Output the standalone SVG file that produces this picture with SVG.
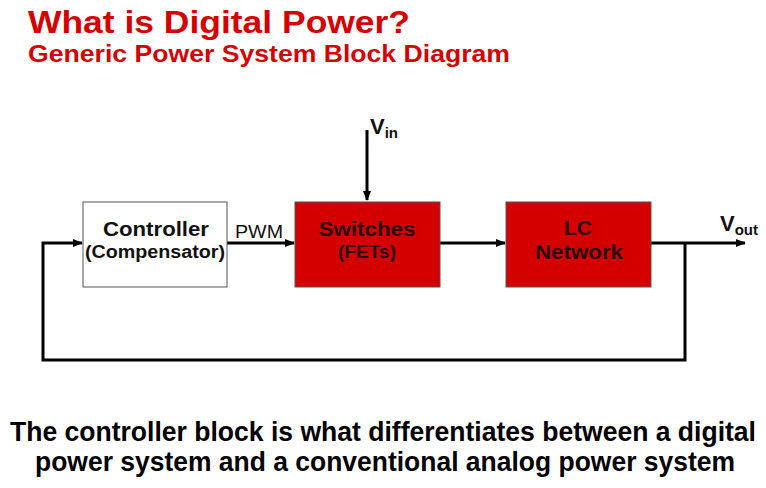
<svg xmlns="http://www.w3.org/2000/svg" width="766" height="488" viewBox="0 0 766 488">
<defs>
<marker id="ah" markerWidth="10" markerHeight="8" refX="9" refY="4" orient="auto" markerUnits="userSpaceOnUse">
<path d="M0,0 L10,4 L0,8 Z" fill="#000"/>
</marker>
<style>
.t{font-family:"Liberation Sans",Arial,sans-serif;font-weight:bold}
.red{fill:#d40000}
.box{stroke:#555;stroke-width:1}
.lbl{font-family:"Liberation Sans",Arial,sans-serif;font-weight:bold;text-anchor:middle;fill:#111}
.dk{fill:#2a0808}
.ln{fill:none;stroke:#000;stroke-width:3}
</style>
</defs>
<rect width="766" height="488" fill="#fff"/>
<text class="t red" x="28" y="33" font-size="32" textLength="382" lengthAdjust="spacingAndGlyphs">What is Digital Power?</text>
<text class="t red" x="28" y="62" font-size="23" textLength="482" lengthAdjust="spacingAndGlyphs">Generic Power System Block Diagram</text>
<g id="connectors">
<line class="ln" x1="367" y1="130" x2="367" y2="200" marker-end="url(#ah)"/>
<line class="ln" x1="227" y1="243" x2="294" y2="243" marker-end="url(#ah)"/>
<line class="ln" x1="440" y1="243" x2="505" y2="243" marker-end="url(#ah)"/>
<line class="ln" x1="651" y1="243" x2="745" y2="243" marker-end="url(#ah)"/>
<polyline class="ln" points="685,243 685,360 43,360 43,243 82,243" marker-end="url(#ah)"/>
<text x="235" y="238" font-family="Liberation Sans,Arial,sans-serif" font-size="18" fill="#111" textLength="48" lengthAdjust="spacingAndGlyphs">PWM</text>
<text class="t" x="370" y="134" font-size="22" fill="#111">V<tspan font-size="15" dy="4">in</tspan></text>
<text class="t" x="720" y="231" font-size="22" fill="#111">V<tspan font-size="15" dy="4">out</tspan></text>
</g>
<g id="controller">
<rect class="box" x="83" y="202" width="144" height="85" fill="#fff"/>
<text class="lbl" x="156" y="236" font-size="21" textLength="106" lengthAdjust="spacingAndGlyphs">Controller</text>
<text class="lbl" x="155" y="258" font-size="18" textLength="140" lengthAdjust="spacingAndGlyphs">(Compensator)</text>
</g>
<g id="switches">
<rect class="box red" x="295" y="202" width="145" height="85"/>
<text class="lbl dk" x="367" y="236" font-size="21" textLength="97" lengthAdjust="spacingAndGlyphs">Switches</text>
<text class="lbl dk" x="367" y="258" font-size="18" textLength="58" lengthAdjust="spacingAndGlyphs">(FETs)</text>
</g>
<g id="lc">
<rect class="box red" x="506" y="202" width="145" height="85"/>
<text class="lbl dk" x="578" y="235" font-size="21" textLength="28" lengthAdjust="spacingAndGlyphs">LC</text>
<text class="lbl dk" x="579" y="259" font-size="21" textLength="88" lengthAdjust="spacingAndGlyphs">Network</text>
</g>
<text class="t" transform="translate(10,441) scale(1,1.1)" x="0" y="0" font-size="24.5" fill="#000" textLength="746" lengthAdjust="spacingAndGlyphs">The controller block is what differentiates between a digital</text>
<text class="t" transform="translate(35,471) scale(1,1.1)" x="0" y="0" font-size="24.5" fill="#000" textLength="700" lengthAdjust="spacingAndGlyphs">power system and a conventional analog power system</text>
</svg>
